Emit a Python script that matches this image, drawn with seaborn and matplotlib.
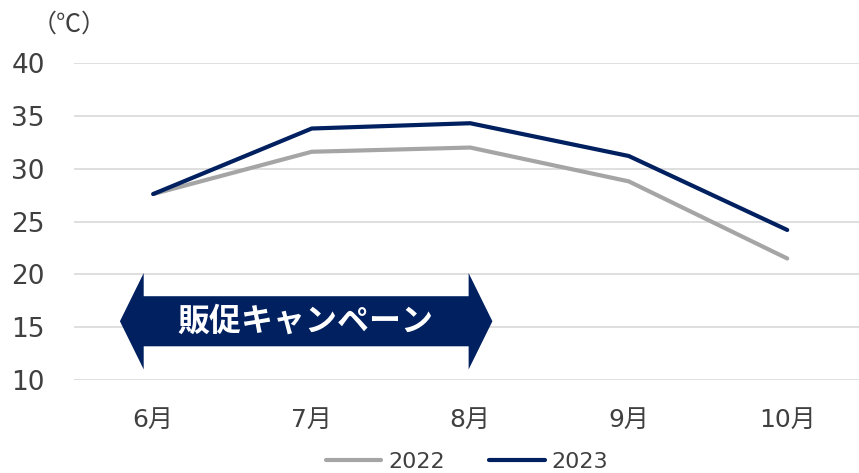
#Line chart: monthly temperature 2022 vs 2023 with campaign arrow

import pandas as pd
import seaborn as sns
import matplotlib.pyplot as plt
from matplotlib.patches import Polygon

#Data
months = ["6月", "7月", "8月", "9月", "10月"]
temp_2022 = [27.6, 31.6, 32.0, 28.8, 21.5]
temp_2023 = [27.6, 33.8, 34.3, 31.2, 24.2]
years = ["2022", "2023"]
campaign_label = "販促キャンペーン"
campaign_start = "6月"
campaign_end = "8月"

df = pd.DataFrame({
    "month": months * 2,
    "temp": temp_2022 + temp_2023,
    "year": [years[0]] * len(months) + [years[1]] * len(months),
})

#Style first, fonts after (set_style resets font.family)
sns.set_style("white")
plt.rcParams["font.family"] = ["DejaVu Sans", "Noto Sans CJK JP"]

navy = "#002060"
gray = "#A5A5A5"
text_col = "#404040"

fig = plt.figure(figsize=(8.59, 4.73), dpi=100)
ax = fig.add_axes([0.0861, 0.1966, 0.9226, 0.6702])

sns.lineplot(data=df, x="month", y="temp", hue="year", hue_order=years,
             palette=[gray, navy], linewidth=3, sort=False, ax=ax)

ax.set_xlim(-0.5, 4.5)
ax.set_ylim(10, 40)
ax.set_yticks(range(10, 41, 5))
ax.yaxis.grid(True, color="#D9D9D9", linewidth=1.2)
ax.set_axisbelow(True)
for s in ax.spines.values():
    s.set_visible(False)
ax.set_xlabel("")
ax.set_ylabel("")
ax.tick_params(axis="y", length=0, pad=21, labelsize=19, labelcolor=text_col)
ax.tick_params(axis="x", length=0, pad=20, labelsize=18, labelcolor=text_col)
for lab in ax.get_yticklabels():
    lab.set_clip_on(False)

#Unit label
fig.text(32 / 859, 1 - 25 / 473, "（℃）", fontsize=18, color=text_col,
         va="center", ha="left", family=["Noto Sans CJK JP", "DejaVu Sans"])

#Campaign double arrow spanning 6月..8月
x0 = months.index(campaign_start)
x1 = months.index(campaign_end)
yc = 15.56
body_h = 2.37
head_h = 4.56
tip = 0.15
poly = Polygon([
    (x0 - 0.06 - tip, yc), (x0 - 0.06, yc + head_h), (x0 - 0.06, yc + body_h),
    (x1 - 0.01, yc + body_h), (x1 - 0.01, yc + head_h), (x1 - 0.01 + tip, yc),
    (x1 - 0.01, yc - head_h), (x1 - 0.01, yc - body_h), (x0 - 0.06, yc - body_h),
    (x0 - 0.06, yc - head_h)], closed=True, facecolor=navy, edgecolor="none",
    zorder=5)
ax.add_patch(poly)
ax.text((x0 + x1) / 2 - 0.04, yc, campaign_label, color="white", fontsize=23,
        fontweight="bold", ha="center", va="center", zorder=6,
        family=["Noto Sans CJK JP", "DejaVu Sans"])

#Legend at the bottom
handles, labels = ax.get_legend_handles_labels()
ax.legend(handles, labels, loc="center", bbox_to_anchor=(467 / 859, 11 / 473),
          bbox_transform=fig.transFigure, ncol=2, frameon=False, fontsize=16,
          handlelength=2.5, handletextpad=0.3, columnspacing=2.0,
          labelcolor=text_col, borderpad=0)

fig.savefig("out.png", dpi=100)
